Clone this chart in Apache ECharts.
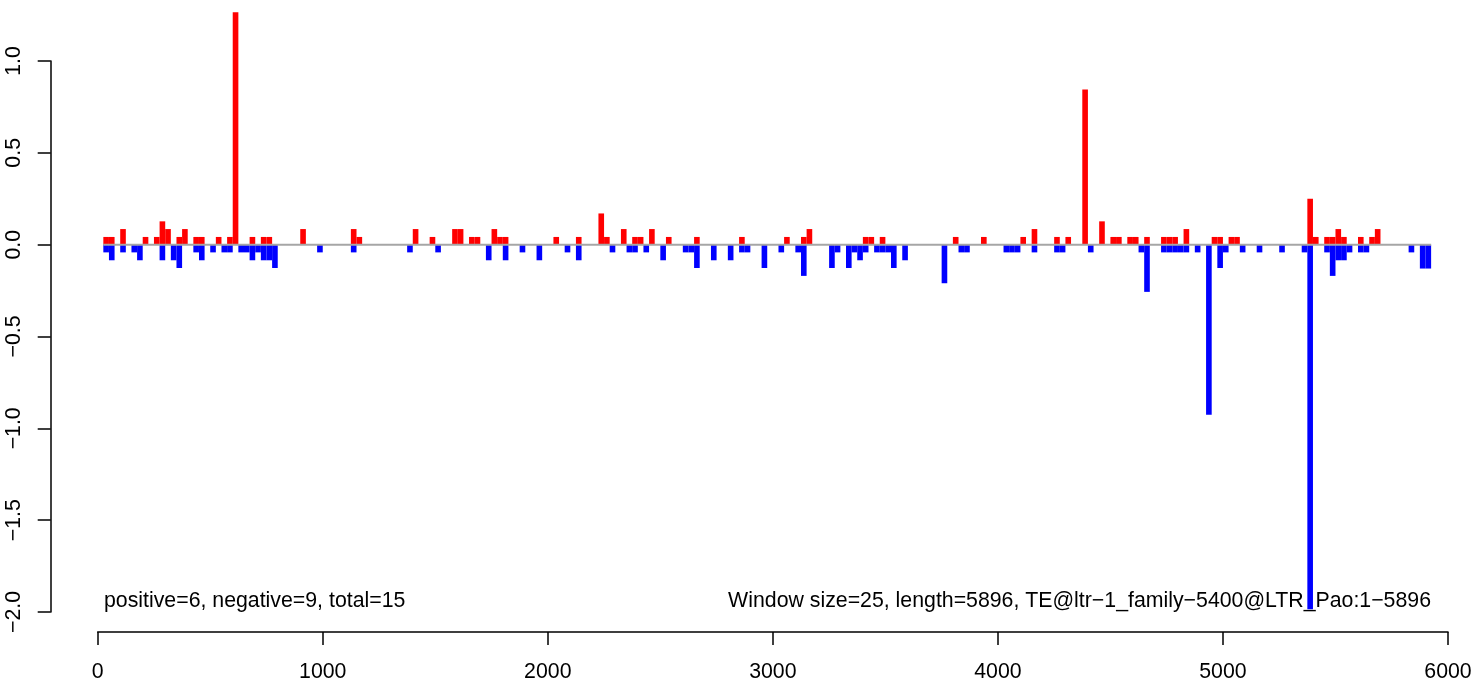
<!DOCTYPE html>
<html>
<head>
<meta charset="utf-8">
<script src="https://cdn.jsdelivr.net/npm/echarts@6/dist/echarts.min.js"></script>
<style>
html, body { margin: 0; padding: 0; background: #fff; }
#chart { width: 1475px; height: 683px; }
</style>
</head>
<body>
<div id="chart"></div>
<script>
// window start positions and scores (window size 25)
var windowSize = 25;
var posX = [25, 50, 100, 200, 250, 275, 300, 350, 375, 425, 450, 525, 575, 600, 675, 725, 750, 900,
    1125, 1150, 1400, 1475, 1575, 1600, 1650, 1675, 1750, 1775, 1800, 2025, 2125, 2225, 2250, 2325,
    2375, 2400, 2450, 2525, 2650, 2850, 3050, 3125, 3150, 3400, 3425, 3475, 3800, 3925, 4100, 4150,
    4250, 4300, 4375, 4450, 4500, 4525, 4575, 4600, 4650, 4725, 4750, 4775, 4825, 4950, 4975, 5025,
    5050, 5375, 5400, 5450, 5475, 5500, 5525, 5600, 5650, 5675];
var posY = [0.042, 0.042, 0.085, 0.042, 0.042, 0.127, 0.085, 0.042, 0.085, 0.042, 0.042, 0.042, 0.042, 1.265, 0.042, 0.042, 0.042, 0.085,
    0.085, 0.042, 0.085, 0.042, 0.085, 0.085, 0.042, 0.042, 0.085, 0.042, 0.042, 0.042, 0.042, 0.17, 0.042, 0.085,
    0.042, 0.042, 0.085, 0.042, 0.042, 0.042, 0.042, 0.042, 0.085, 0.042, 0.042, 0.042, 0.042, 0.042, 0.042, 0.085,
    0.042, 0.042, 0.845, 0.127, 0.042, 0.042, 0.042, 0.042, 0.042, 0.042, 0.042, 0.042, 0.085, 0.042, 0.042, 0.042,
    0.042, 0.25, 0.042, 0.042, 0.042, 0.085, 0.042, 0.042, 0.042, 0.085];
var negX = [25, 50, 100, 150, 175, 275, 325, 350, 425, 450, 500, 550, 575, 625, 650, 675, 700, 725, 750, 775, 975,
    1125, 1375, 1500, 1725, 1800, 1875, 1950, 2075, 2125, 2275, 2350, 2375, 2425, 2500, 2600, 2625, 2650,
    2725, 2800, 2850, 2875, 2950, 3025, 3100, 3125, 3250, 3275, 3325, 3350, 3375, 3400, 3450, 3475, 3500,
    3525, 3575, 3750, 3825, 3850, 4025, 4050, 4075, 4150, 4250, 4275, 4400, 4625, 4650, 4725, 4750, 4775,
    4800, 4825, 4875, 4925, 4975, 5000, 5075, 5150, 5250, 5350, 5375, 5450, 5475, 5500, 5525, 5550, 5600,
    5625, 5825, 5875, 5900];
var negY = [-0.042, -0.085, -0.042, -0.042, -0.085, -0.085, -0.085, -0.127, -0.042, -0.085, -0.042, -0.042, -0.042, -0.042, -0.042, -0.085, -0.042, -0.085, -0.085, -0.127, -0.042,
    -0.042, -0.042, -0.042, -0.085, -0.085, -0.042, -0.085, -0.042, -0.085, -0.042, -0.042, -0.042, -0.042, -0.085, -0.042, -0.042, -0.127,
    -0.085, -0.085, -0.042, -0.042, -0.127, -0.042, -0.042, -0.17, -0.127, -0.042, -0.127, -0.042, -0.085, -0.042, -0.042, -0.042, -0.042,
    -0.127, -0.085, -0.21, -0.042, -0.042, -0.042, -0.042, -0.042, -0.042, -0.042, -0.042, -0.042, -0.042, -0.257, -0.042, -0.042, -0.042,
    -0.042, -0.042, -0.042, -0.926, -0.127, -0.042, -0.042, -0.042, -0.042, -0.042, -1.985, -0.042, -0.17, -0.085, -0.085, -0.042, -0.042,
    -0.042, -0.042, -0.13, -0.13];
var zeroLineX = [25, 5925];
var leftNote = 'positive=6, negative=9, total=15';
var rightNote = 'Window size=25, length=5896, TE@ltr\u22121_family\u22125400@LTR_Pao:1\u22125896';

var font = 'Liberation Sans, Arial, Helvetica, sans-serif';
var fsize = 21.3;

function pairs(xs, ys) {
    var out = [];
    for (var i = 0; i < xs.length; i++) out.push([xs[i], ys[i]]);
    return out;
}

function barItem(params, api) {
    var x0 = api.value(0), v = api.value(1);
    var p0 = api.coord([x0, 0]);
    var p1 = api.coord([x0 + windowSize, v]);
    return {
        type: 'rect',
        shape: {
            x: p0[0],
            y: Math.min(p0[1], p1[1]),
            width: p1[0] - p0[0],
            height: Math.abs(p1[1] - p0[1])
        },
        style: { fill: api.visual('color') }
    };
}

var chart = echarts.init(document.getElementById('chart'));
var option = {
    animation: false,
    backgroundColor: '#fff',
    textStyle: { fontFamily: font },
    grid: { left: 97.7, right: 27, top: 61, bottom: 71, containLabel: false },
    xAxis: {
        type: 'value',
        min: 0, max: 6000, interval: 1000,
        offset: 20,
        splitLine: { show: false },
        axisLine: { show: true, onZero: false, lineStyle: { color: '#000', width: 1.5 } },
        axisTick: { show: true, length: 13, lineStyle: { color: '#000', width: 1.5 } },
        axisLabel: {
            show: true, showMinLabel: true, showMaxLabel: true, margin: 30,
            fontSize: fsize, color: '#000', fontFamily: font,
            formatter: function (v) { return String(v); }
        }
    },
    yAxis: {
        type: 'value',
        min: -2, max: 1, interval: 0.5,
        offset: 47,
        splitLine: { show: false },
        axisLine: { show: true, onZero: false, lineStyle: { color: '#000', width: 1.5 } },
        axisTick: { show: true, length: 13, lineStyle: { color: '#000', width: 1.5 } },
        axisLabel: {
            show: true, rotate: 90, margin: 26, fontSize: fsize, color: '#000', fontFamily: font,
            showMinLabel: true, showMaxLabel: true,
            formatter: function (v) { return v.toFixed(1).replace('-', '\u2212'); }
        }
    },
    series: [
        {
            name: 'positive',
            type: 'custom',
            renderItem: barItem,
            clip: false,
            itemStyle: { color: '#ff0000' },
            encode: { x: 0, y: 1 },
            data: pairs(posX, posY),
            z: 2
        },
        {
            name: 'negative',
            type: 'custom',
            renderItem: barItem,
            clip: false,
            itemStyle: { color: '#0000ff' },
            encode: { x: 0, y: 1 },
            data: pairs(negX, negY),
            z: 2
        },
        {
            name: 'zero',
            type: 'line',
            symbol: 'none',
            silent: true,
            lineStyle: { color: '#a6a6a6', width: 2 },
            data: [[zeroLineX[0], 0], [zeroLineX[1], 0]],
            z: 3
        }
    ],
    graphic: [
        {
            type: 'text', x: 104, y: 601,
            style: { text: leftNote, font: fsize + 'px ' + font, fill: '#000', align: 'left', verticalAlign: 'middle' }
        },
        {
            type: 'text', x: 1431, y: 601,
            style: { text: rightNote, font: fsize + 'px ' + font, fill: '#000', align: 'right', verticalAlign: 'middle' }
        }
    ]
};
chart.setOption(option);
</script>
</body>
</html>
